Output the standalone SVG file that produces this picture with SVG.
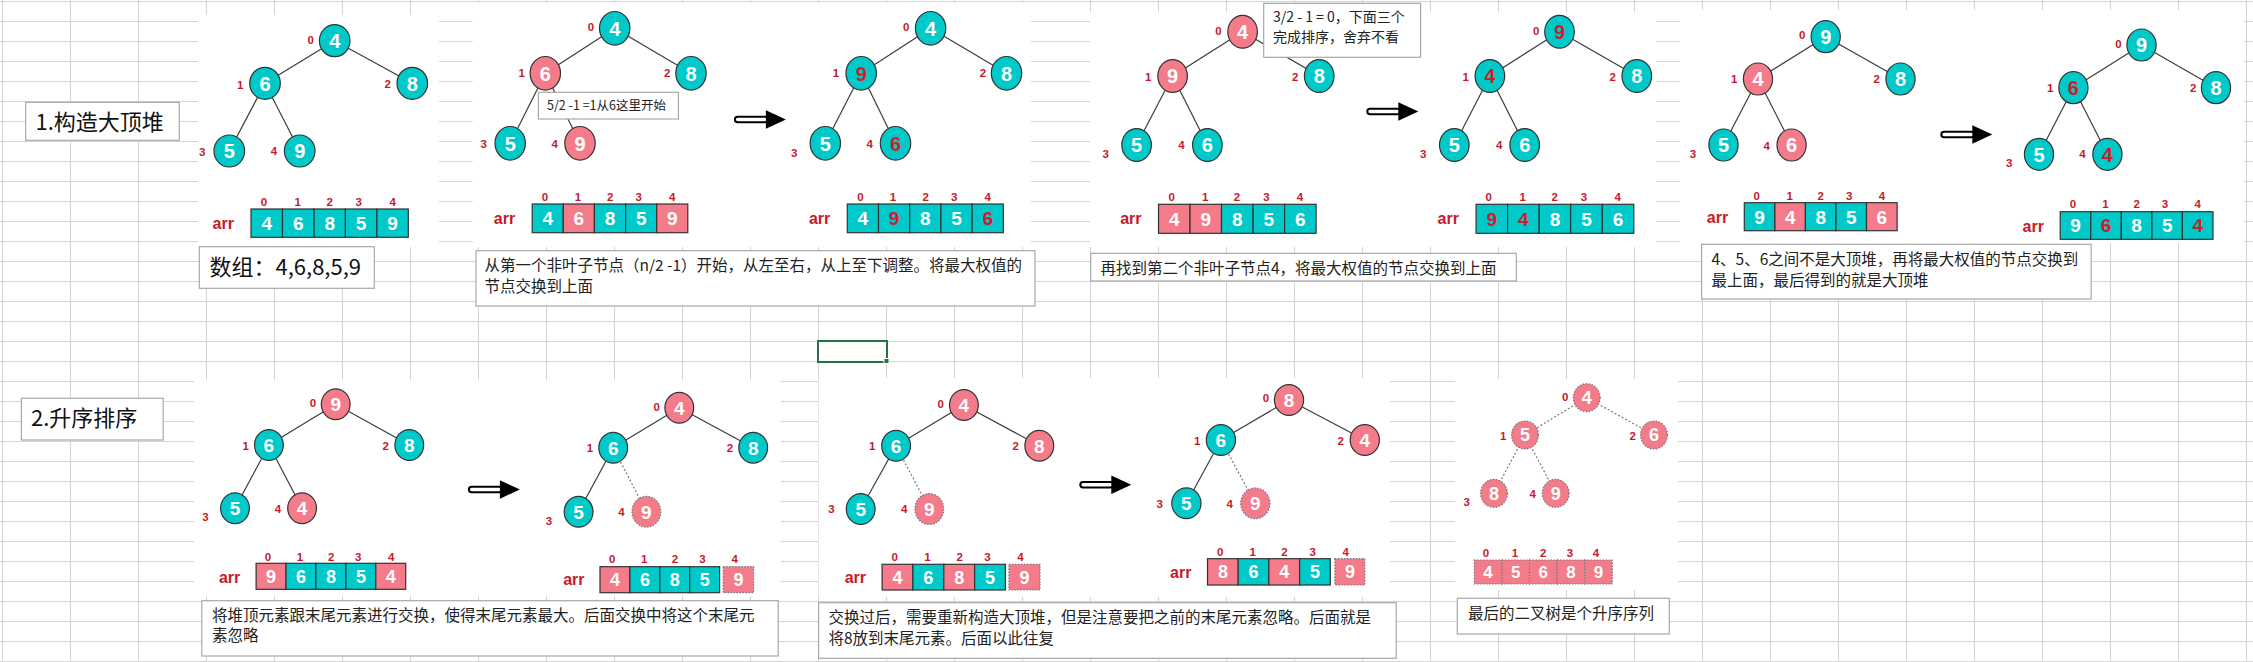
<svg xmlns="http://www.w3.org/2000/svg" width="2253" height="662" viewBox="0 0 2253 662">
<defs>
<style>
.img{fill:#fff}
.box{fill:#fff;stroke:#a8a8a8;stroke-width:1.2}
.tx{font-family:"Noto Sans CJK SC","Noto Sans",sans-serif;fill:#222;font-size:15.5px}
.big{font-size:22px;fill:#111}
.sm{font-size:12.5px}
.cs{font-size:14px}
.e{stroke:#3c3c3c;stroke-width:1.2}
.ed{stroke:#7a7a7a;stroke-width:1.2;stroke-dasharray:2 2}
.T{fill:#00c9c9;stroke:#333;stroke-width:1.2}
.P{fill:#f47b8a;stroke:#333;stroke-width:1.2}
.D{fill:#f47b8a;stroke:#777;stroke-width:1.2;stroke-dasharray:1.5 1.5}
.n{font-family:"Liberation Sans",Arial,sans-serif;font-weight:bold;font-size:20px;text-anchor:middle;fill:#fff}
.nb{font-size:19px}
.ns{font-size:18px}
.r{fill:#d01c2c}
.i{font-family:"Liberation Sans",Arial,sans-serif;font-weight:bold;font-size:11.5px;text-anchor:middle;fill:#c8192b}
.arr{font-family:"Liberation Sans",Arial,sans-serif;font-weight:bold;font-size:16px;text-anchor:middle;fill:#c8192b}
</style>
<pattern id="grid" x="2" y="1" width="68" height="20" patternUnits="userSpaceOnUse"><path d="M0.5 0V20M0 0.5H68" stroke="#d4d4d4" stroke-width="1" fill="none"/></pattern>
<g id="arrow"><rect x="1" y="-2.75" width="33" height="5.5" rx="2.75" fill="#fff" stroke="#000" stroke-width="2"/><path d="M32 -9.2 L52 0 L32 9.2Z" fill="#000"/></g>
</defs>
<rect width="2253" height="662" fill="#fff"/>
<rect width="2253" height="662" fill="url(#grid)"/>

<!-- image backgrounds -->
<g id="images">
<rect class="img" x="198" y="15" width="241" height="232"/>
<rect class="img" x="472.7" y="3" width="558.3" height="244"/>
<rect class="img" x="1090" y="12" width="566" height="235"/>
<rect class="img" x="1680" y="10" width="564" height="233"/>
<rect class="img" x="194" y="380" width="587" height="216"/>
<rect class="img" x="818.6" y="378" width="571.4" height="219"/>
<rect class="img" x="1455" y="379" width="223" height="211"/>
</g>

<!-- connectors -->
<g id="connectors">
<line class="e" x1="334.7" y1="40.7" x2="265" y2="83.3"/><line class="e" x1="334.7" y1="40.7" x2="412.3" y2="83.3"/><line class="e" x1="265" y1="83.3" x2="229.3" y2="151"/><line class="e" x1="265" y1="83.3" x2="299.7" y2="151"/>
<line class="e" x1="614.7" y1="28.3" x2="545.3" y2="73.3"/><line class="e" x1="614.7" y1="28.3" x2="691" y2="73.3"/><line class="e" x1="545.3" y1="73.3" x2="510.2" y2="143.3"/><line class="e" x1="545.3" y1="73.3" x2="580" y2="143.3"/>
<line class="e" x1="930.6" y1="28.3" x2="861.2" y2="73.3"/><line class="e" x1="930.6" y1="28.3" x2="1006.5" y2="73.3"/><line class="e" x1="861.2" y1="73.3" x2="825.3" y2="143.3"/><line class="e" x1="861.2" y1="73.3" x2="895.5" y2="143.3"/>
<line class="e" x1="1242.6" y1="31.7" x2="1172.6" y2="76"/><line class="e" x1="1242.6" y1="31.7" x2="1319.2" y2="76"/><line class="e" x1="1172.6" y1="76" x2="1136.6" y2="145"/><line class="e" x1="1172.6" y1="76" x2="1207.4" y2="145"/>
<line class="e" x1="1559.5" y1="31.7" x2="1489.9" y2="76"/><line class="e" x1="1559.5" y1="31.7" x2="1636.8" y2="76"/><line class="e" x1="1489.9" y1="76" x2="1454.3" y2="145"/><line class="e" x1="1489.9" y1="76" x2="1524.7" y2="145"/>
<line class="e" x1="1825.7" y1="36.7" x2="1758" y2="79"/><line class="e" x1="1825.7" y1="36.7" x2="1900.5" y2="79"/><line class="e" x1="1758" y1="79" x2="1723.5" y2="145"/><line class="e" x1="1758" y1="79" x2="1791.6" y2="145"/>
<line class="e" x1="2141.5" y1="45" x2="2073.4" y2="87.7"/><line class="e" x1="2141.5" y1="45" x2="2216" y2="87.7"/><line class="e" x1="2073.4" y1="87.7" x2="2039" y2="154.3"/><line class="e" x1="2073.4" y1="87.7" x2="2107.4" y2="154.3"/>
<line class="e" x1="335.7" y1="404.3" x2="268.9" y2="445"/><line class="e" x1="335.7" y1="404.3" x2="409.3" y2="445"/><line class="e" x1="268.9" y1="445" x2="235" y2="508.3"/><line class="e" x1="268.9" y1="445" x2="302.1" y2="508.3"/>
<line class="e" x1="679.3" y1="407.7" x2="613.2" y2="447.7"/><line class="e" x1="679.3" y1="407.7" x2="753.2" y2="447.7"/><line class="e" x1="613.2" y1="447.7" x2="578.6" y2="511.7"/><line class="ed" x1="613.2" y1="447.7" x2="646.4" y2="511.7"/>
<line class="e" x1="963.9" y1="405" x2="896.1" y2="445.7"/><line class="e" x1="963.9" y1="405" x2="1039.3" y2="445.7"/><line class="e" x1="896.1" y1="445.7" x2="860.7" y2="509"/><line class="ed" x1="896.1" y1="445.7" x2="929.3" y2="509"/>
<line class="e" x1="1289" y1="400" x2="1220.9" y2="440"/><line class="e" x1="1289" y1="400" x2="1364.8" y2="440"/><line class="e" x1="1220.9" y1="440" x2="1186.4" y2="503.3"/><line class="ed" x1="1220.9" y1="440" x2="1255.3" y2="503.3"/>
<line class="ed" x1="1586.7" y1="397.7" x2="1525" y2="435"/><line class="ed" x1="1586.7" y1="397.7" x2="1654" y2="435"/><line class="ed" x1="1525" y1="435" x2="1494" y2="493.3"/><line class="ed" x1="1525" y1="435" x2="1555.7" y2="493.3"/>
<use href="#arrow" x="733.9" y="119.5"/>
<use href="#arrow" x="1366.3" y="111.5"/>
<use href="#arrow" x="1940.3" y="134.5"/>
<use href="#arrow" x="467.9" y="489.5"/>
<use href="#arrow" x="1079.3" y="484.8"/>
</g>

<!-- tree 1 -->
<g id="tree1">
<g id="t1n0"><ellipse class="T" cx="334.7" cy="40.7" rx="15.3" ry="16"/><text class="n" x="334.7" y="47.9">4</text></g>
<g id="t1n1"><ellipse class="T" cx="265" cy="83.3" rx="15.3" ry="16"/><text class="n" x="265" y="90.5">6</text></g>
<g id="t1n2"><ellipse class="T" cx="412.3" cy="83.3" rx="15.3" ry="16"/><text class="n" x="412.3" y="90.5">8</text></g>
<g id="t1n3"><ellipse class="T" cx="229.3" cy="151" rx="15.3" ry="16"/><text class="n" x="229.3" y="158.2">5</text></g>
<g id="t1n4"><ellipse class="T" cx="299.7" cy="151" rx="15.3" ry="16"/><text class="n" x="299.7" y="158.2">9</text></g>
<text class="i" x="310.7" y="44.1">0</text><text class="i" x="240.3" y="89.1">1</text><text class="i" x="387.7" y="88.1">2</text><text class="i" x="202.3" y="155.8">3</text><text class="i" x="274" y="155.1">4</text>
</g>
<g id="arr1">
<text class="arr" x="223.3" y="228.6">arr</text>
<text class="i" x="264" y="205.8">0</text><text class="i" x="297.7" y="205.8">1</text><text class="i" x="329.7" y="205.8">2</text><text class="i" x="358.7" y="205.8">3</text><text class="i" x="392.7" y="205.8">4</text>
<rect class="T" x="251" y="209" width="31.5" height="28.3"/><rect class="T" x="282.5" y="209" width="31.5" height="28.3"/><rect class="T" x="314" y="209" width="31.4" height="28.3"/><rect class="T" x="345.4" y="209" width="31.5" height="28.3"/><rect class="T" x="376.9" y="209" width="31.4" height="28.3"/>
<text class="n nb" x="266.7" y="229.9">4</text><text class="n nb" x="298.2" y="229.9">6</text><text class="n nb" x="329.7" y="229.9">8</text><text class="n nb" x="361.1" y="229.9">5</text><text class="n nb" x="392.6" y="229.9">9</text>
</g>

<!-- tree 2a -->
<g id="tree2a">
<g id="t2an0"><ellipse class="T" cx="614.7" cy="28.3" rx="15.2" ry="16.8"/><text class="n" x="614.7" y="35.5">4</text></g>
<g id="t2an1"><ellipse class="P" cx="545.3" cy="73.3" rx="15.2" ry="16.8"/><text class="n" x="545.3" y="80.5">6</text></g>
<g id="t2an2"><ellipse class="T" cx="691" cy="73.3" rx="15.2" ry="16.8"/><text class="n" x="691" y="80.5">8</text></g>
<g id="t2an3"><ellipse class="T" cx="510.2" cy="143.3" rx="15.2" ry="16.8"/><text class="n" x="510.2" y="150.5">5</text></g>
<g id="t2an4"><ellipse class="P" cx="580" cy="143.3" rx="15.2" ry="16.8"/><text class="n" x="580" y="150.5">9</text></g>
<text class="i" x="591" y="30.8">0</text><text class="i" x="521.6" y="77.4">1</text><text class="i" x="667.3" y="77.4">2</text><text class="i" x="483.7" y="148.1">3</text><text class="i" x="554.7" y="148.1">4</text>
</g>
<g id="callout1"><rect class="box" x="538.4" y="92.3" width="140" height="26.7"/><text class="tx sm" x="547" y="110">5/2 -1 =1从6这里开始</text></g>
<g id="arr2a">
<text class="arr" x="504.5" y="224.3">arr</text>
<text class="i" x="544.9" y="200.8">0</text><text class="i" x="578" y="200.8">1</text><text class="i" x="610.2" y="200.8">2</text><text class="i" x="638.8" y="200.8">3</text><text class="i" x="672.2" y="200.8">4</text>
<rect class="T" x="532.2" y="204" width="31.1" height="28.7"/><rect class="P" x="563.3" y="204" width="31.1" height="28.7"/><rect class="T" x="594.4" y="204" width="31.2" height="28.7"/><rect class="T" x="625.6" y="204" width="31.1" height="28.7"/><rect class="P" x="656.7" y="204" width="31.1" height="28.7"/>
<text class="n nb" x="547.8" y="225.2">4</text><text class="n nb" x="578.9" y="225.2">6</text><text class="n nb" x="610" y="225.2">8</text><text class="n nb" x="641.2" y="225.2">5</text><text class="n nb" x="672.3" y="225.2">9</text>
</g>

<!-- tree 2b -->
<g id="tree2b">
<g id="t2bn0"><ellipse class="T" cx="930.6" cy="28.3" rx="15.2" ry="16.8"/><text class="n" x="930.6" y="35.5">4</text></g>
<g id="t2bn1"><ellipse class="T" cx="861.2" cy="73.3" rx="15.2" ry="16.8"/><text class="n r" x="861.2" y="80.5">9</text></g>
<g id="t2bn2"><ellipse class="T" cx="1006.5" cy="73.3" rx="15.2" ry="16.8"/><text class="n" x="1006.5" y="80.5">8</text></g>
<g id="t2bn3"><ellipse class="T" cx="825.3" cy="143.3" rx="15.2" ry="16.8"/><text class="n" x="825.3" y="150.5">5</text></g>
<g id="t2bn4"><ellipse class="T" cx="895.5" cy="143.3" rx="15.2" ry="16.8"/><text class="n r" x="895.5" y="150.5">6</text></g>
<text class="i" x="906.1" y="30.8">0</text><text class="i" x="835.9" y="77.4">1</text><text class="i" x="982.9" y="77.4">2</text><text class="i" x="794.3" y="156.8">3</text><text class="i" x="869.8" y="148.1">4</text>
</g>
<g id="arr2b">
<text class="arr" x="819.6" y="224.3">arr</text>
<text class="i" x="860.4" y="200.8">0</text><text class="i" x="893" y="200.8">1</text><text class="i" x="925.7" y="200.8">2</text><text class="i" x="954.3" y="200.8">3</text><text class="i" x="987.8" y="200.8">4</text>
<rect class="T" x="847.3" y="204" width="31.2" height="28.7"/><rect class="T" x="878.5" y="204" width="31.2" height="28.7"/><rect class="T" x="909.7" y="204" width="31.2" height="28.7"/><rect class="T" x="940.9" y="204" width="31.2" height="28.7"/><rect class="T" x="972.1" y="204" width="31.2" height="28.7"/>
<text class="n nb" x="862.9" y="225.2">4</text><text class="n nb r" x="894.1" y="225.2">9</text><text class="n nb" x="925.3" y="225.2">8</text><text class="n nb" x="956.5" y="225.2">5</text><text class="n nb r" x="987.7" y="225.2">6</text>
</g>

<!-- tree 3a -->
<g id="tree3a">
<g id="t3an0"><ellipse class="P" cx="1242.6" cy="31.7" rx="14.8" ry="16.4"/><text class="n" x="1242.6" y="38.9">4</text></g>
<g id="t3an1"><ellipse class="P" cx="1172.6" cy="76" rx="14.8" ry="16.4"/><text class="n" x="1172.6" y="83.2">9</text></g>
<g id="t3an2"><ellipse class="T" cx="1319.2" cy="76" rx="14.8" ry="16.4"/><text class="n" x="1319.2" y="83.2">8</text></g>
<g id="t3an3"><ellipse class="T" cx="1136.6" cy="145" rx="14.8" ry="16.4"/><text class="n" x="1136.6" y="152.2">5</text></g>
<g id="t3an4"><ellipse class="T" cx="1207.4" cy="145" rx="14.8" ry="16.4"/><text class="n" x="1207.4" y="152.2">6</text></g>
<text class="i" x="1218.5" y="34.8">0</text><text class="i" x="1148.1" y="80.8">1</text><text class="i" x="1295.1" y="80.8">2</text><text class="i" x="1105.6" y="158.1">3</text><text class="i" x="1181.4" y="149.1">4</text>
</g>
<g id="callout2"><rect class="box" x="1263.7" y="3.3" width="156.9" height="54"/><text class="tx cs" x="1273" y="22.4">3/2 - 1 = 0，下面三个</text><text class="tx cs" x="1273" y="41.8">完成排序，舍弃不看</text></g>
<g id="arr3a">
<text class="arr" x="1130.9" y="224.3">arr</text>
<text class="i" x="1171.8" y="200.8">0</text><text class="i" x="1205.1" y="200.8">1</text><text class="i" x="1236.9" y="200.8">2</text><text class="i" x="1266.4" y="200.8">3</text><text class="i" x="1300" y="200.8">4</text>
<rect class="P" x="1158.5" y="204.3" width="31.5" height="29"/><rect class="P" x="1190" y="204.3" width="31.5" height="29"/><rect class="T" x="1221.5" y="204.3" width="31.6" height="29"/><rect class="T" x="1253.1" y="204.3" width="31.5" height="29"/><rect class="T" x="1284.6" y="204.3" width="31.5" height="29"/>
<text class="n nb" x="1174.3" y="225.6">4</text><text class="n nb" x="1205.8" y="225.6">9</text><text class="n nb" x="1237.3" y="225.6">8</text><text class="n nb" x="1268.8" y="225.6">5</text><text class="n nb" x="1300.3" y="225.6">6</text>
</g>

<!-- tree 3b -->
<g id="tree3b">
<g id="t3bn0"><ellipse class="T" cx="1559.5" cy="31.7" rx="14.8" ry="16.4"/><text class="n r" x="1559.5" y="38.9">9</text></g>
<g id="t3bn1"><ellipse class="T" cx="1489.9" cy="76" rx="14.8" ry="16.4"/><text class="n r" x="1489.9" y="83.2">4</text></g>
<g id="t3bn2"><ellipse class="T" cx="1636.8" cy="76" rx="14.8" ry="16.4"/><text class="n" x="1636.8" y="83.2">8</text></g>
<g id="t3bn3"><ellipse class="T" cx="1454.3" cy="145" rx="14.8" ry="16.4"/><text class="n" x="1454.3" y="152.2">5</text></g>
<g id="t3bn4"><ellipse class="T" cx="1524.7" cy="145" rx="14.8" ry="16.4"/><text class="n" x="1524.7" y="152.2">6</text></g>
<text class="i" x="1536.2" y="34.8">0</text><text class="i" x="1465.8" y="80.8">1</text><text class="i" x="1612.7" y="80.8">2</text><text class="i" x="1423.3" y="158.1">3</text><text class="i" x="1499.1" y="149.1">4</text>
</g>
<g id="arr3b">
<text class="arr" x="1448.2" y="224.3">arr</text>
<text class="i" x="1488.7" y="200.8">0</text><text class="i" x="1522.8" y="200.8">1</text><text class="i" x="1554.6" y="200.8">2</text><text class="i" x="1584" y="200.8">3</text><text class="i" x="1617.7" y="200.8">4</text>
<rect class="T" x="1476.1" y="204.3" width="31.5" height="29"/><rect class="T" x="1507.6" y="204.3" width="31.6" height="29"/><rect class="T" x="1539.2" y="204.3" width="31.5" height="29"/><rect class="T" x="1570.7" y="204.3" width="31.6" height="29"/><rect class="T" x="1602.3" y="204.3" width="31.5" height="29"/>
<text class="n nb r" x="1491.9" y="225.6">9</text><text class="n nb r" x="1523.4" y="225.6">4</text><text class="n nb" x="1555" y="225.6">8</text><text class="n nb" x="1586.5" y="225.6">5</text><text class="n nb" x="1618" y="225.6">6</text>
</g>

<!-- tree 4a -->
<g id="tree4a">
<g id="t4an0"><ellipse class="T" cx="1825.7" cy="36.7" rx="14.6" ry="16"/><text class="n" x="1825.7" y="43.9">9</text></g>
<g id="t4an1"><ellipse class="P" cx="1758" cy="79" rx="14.6" ry="16"/><text class="n" x="1758" y="86.2">4</text></g>
<g id="t4an2"><ellipse class="T" cx="1900.5" cy="79" rx="14.6" ry="16"/><text class="n" x="1900.5" y="86.2">8</text></g>
<g id="t4an3"><ellipse class="T" cx="1723.5" cy="145" rx="14.6" ry="16"/><text class="n" x="1723.5" y="152.2">5</text></g>
<g id="t4an4"><ellipse class="P" cx="1791.6" cy="145" rx="14.6" ry="16"/><text class="n" x="1791.6" y="152.2">6</text></g>
<text class="i" x="1802.2" y="39.1">0</text><text class="i" x="1734.1" y="83.4">1</text><text class="i" x="1876.7" y="83.4">2</text><text class="i" x="1692.9" y="158.4">3</text><text class="i" x="1766.7" y="149.8">4</text>
</g>
<g id="arr4a">
<text class="arr" x="1717.5" y="222.6">arr</text>
<text class="i" x="1756.8" y="199.8">0</text><text class="i" x="1789.7" y="199.8">1</text><text class="i" x="1820.7" y="199.8">2</text><text class="i" x="1849.1" y="199.8">3</text><text class="i" x="1882" y="199.8">4</text>
<rect class="T" x="1744.3" y="202.7" width="30.6" height="28"/><rect class="P" x="1774.9" y="202.7" width="30.5" height="28"/><rect class="T" x="1805.4" y="202.7" width="30.6" height="28"/><rect class="T" x="1836" y="202.7" width="30.5" height="28"/><rect class="P" x="1866.5" y="202.7" width="30.6" height="28"/>
<text class="n nb" x="1759.6" y="223.5">9</text><text class="n nb" x="1790.2" y="223.5">4</text><text class="n nb" x="1820.7" y="223.5">8</text><text class="n nb" x="1851.3" y="223.5">5</text><text class="n nb" x="1881.8" y="223.5">6</text>
</g>

<!-- tree 4b -->
<g id="tree4b">
<g id="t4bn0"><ellipse class="T" cx="2141.5" cy="45" rx="14.6" ry="16"/><text class="n" x="2141.5" y="52.2">9</text></g>
<g id="t4bn1"><ellipse class="T" cx="2073.4" cy="87.7" rx="14.6" ry="16"/><text class="n r" x="2073.4" y="94.9">6</text></g>
<g id="t4bn2"><ellipse class="T" cx="2216" cy="87.7" rx="14.6" ry="16"/><text class="n" x="2216" y="94.9">8</text></g>
<g id="t4bn3"><ellipse class="T" cx="2039" cy="154.3" rx="14.6" ry="16"/><text class="n" x="2039" y="161.5">5</text></g>
<g id="t4bn4"><ellipse class="T" cx="2107.4" cy="154.3" rx="14.6" ry="16"/><text class="n r" x="2107.4" y="161.5">4</text></g>
<text class="i" x="2118.4" y="47.8">0</text><text class="i" x="2050.3" y="92.4">1</text><text class="i" x="2193.3" y="92.4">2</text><text class="i" x="2009.1" y="167.4">3</text><text class="i" x="2082.5" y="158.4">4</text>
</g>
<g id="arr4b">
<text class="arr" x="2033.3" y="231.6">arr</text>
<text class="i" x="2073" y="208.4">0</text><text class="i" x="2105.5" y="208.4">1</text><text class="i" x="2136.6" y="208.4">2</text><text class="i" x="2164.9" y="208.4">3</text><text class="i" x="2197.8" y="208.4">4</text>
<rect class="T" x="2060.2" y="211.7" width="30.6" height="27.6"/><rect class="T" x="2090.8" y="211.7" width="30.5" height="27.6"/><rect class="T" x="2121.3" y="211.7" width="30.6" height="27.6"/><rect class="T" x="2151.9" y="211.7" width="30.5" height="27.6"/><rect class="T" x="2182.4" y="211.7" width="30.6" height="27.6"/>
<text class="n nb" x="2075.5" y="232.3">9</text><text class="n nb r" x="2106.1" y="232.3">6</text><text class="n nb" x="2136.6" y="232.3">8</text><text class="n nb" x="2167.2" y="232.3">5</text><text class="n nb r" x="2197.7" y="232.3">4</text>
</g>

<!-- tree 5a -->
<g id="tree5a">
<g id="t5an0"><ellipse class="P" cx="335.7" cy="404.3" rx="14.4" ry="15.4"/><text class="n nb" x="335.7" y="411.1">9</text></g>
<g id="t5an1"><ellipse class="T" cx="268.9" cy="445" rx="14.4" ry="15.4"/><text class="n nb" x="268.9" y="451.8">6</text></g>
<g id="t5an2"><ellipse class="T" cx="409.3" cy="445" rx="14.4" ry="15.4"/><text class="n nb" x="409.3" y="451.8">8</text></g>
<g id="t5an3"><ellipse class="T" cx="235" cy="508.3" rx="14.4" ry="15.4"/><text class="n nb" x="235" y="515.1">5</text></g>
<g id="t5an4"><ellipse class="P" cx="302.1" cy="508.3" rx="14.4" ry="15.4"/><text class="n nb" x="302.1" y="515.1">4</text></g>
<text class="i" x="312.9" y="407.4">0</text><text class="i" x="245.7" y="450.1">1</text><text class="i" x="385.7" y="450.1">2</text><text class="i" x="205.4" y="521.4">3</text><text class="i" x="277.9" y="513.1">4</text>
</g>
<g id="arr5a">
<text class="arr" x="229.6" y="582.6">arr</text>
<text class="i" x="267.9" y="560.8">0</text><text class="i" x="300" y="560.8">1</text><text class="i" x="331.1" y="560.8">2</text><text class="i" x="358.2" y="560.8">3</text><text class="i" x="391.1" y="560.8">4</text>
<rect class="P" x="256.1" y="563.3" width="29.9" height="26"/><rect class="T" x="286" y="563.3" width="29.9" height="26"/><rect class="T" x="315.9" y="563.3" width="30" height="26"/><rect class="T" x="345.9" y="563.3" width="29.9" height="26"/><rect class="P" x="375.8" y="563.3" width="29.9" height="26"/>
<text class="n ns" x="271.1" y="582.8">9</text><text class="n ns" x="301" y="582.8">6</text><text class="n ns" x="330.9" y="582.8">8</text><text class="n ns" x="360.9" y="582.8">5</text><text class="n ns" x="390.7" y="582.8">4</text>
</g>

<!-- tree 5b -->
<g id="tree5b">
<g id="t5bn0"><ellipse class="P" cx="679.3" cy="407.7" rx="14.4" ry="15.4"/><text class="n nb" x="679.3" y="414.5">4</text></g>
<g id="t5bn1"><ellipse class="T" cx="613.2" cy="447.7" rx="14.4" ry="15.4"/><text class="n nb" x="613.2" y="454.5">6</text></g>
<g id="t5bn2"><ellipse class="T" cx="753.2" cy="447.7" rx="14.4" ry="15.4"/><text class="n nb" x="753.2" y="454.5">8</text></g>
<g id="t5bn3"><ellipse class="T" cx="578.6" cy="511.7" rx="14.4" ry="15.4"/><text class="n nb" x="578.6" y="518.5">5</text></g>
<g id="t5bn4"><ellipse class="D" cx="646.4" cy="511.7" rx="14.4" ry="15.4"/><text class="n nb" x="646.4" y="518.5">9</text></g>
<text class="i" x="656.8" y="410.8">0</text><text class="i" x="590" y="452.4">1</text><text class="i" x="730" y="452.4">2</text><text class="i" x="548.9" y="524.8">3</text><text class="i" x="621.4" y="515.8">4</text>
</g>
<g id="arr5b">
<text class="arr" x="573.9" y="585">arr</text>
<text class="i" x="612.1" y="563.4">0</text><text class="i" x="644.3" y="563.4">1</text><text class="i" x="675" y="563.4">2</text><text class="i" x="702.5" y="563.4">3</text><text class="i" x="734.6" y="563.4">4</text>
<rect class="P" x="600" y="566.7" width="29.9" height="26"/><rect class="T" x="629.9" y="566.7" width="29.9" height="26"/><rect class="T" x="659.8" y="566.7" width="29.9" height="26"/><rect class="T" x="689.7" y="566.7" width="29.9" height="26"/><rect class="D" x="723.2" y="566.7" width="30.4" height="26"/>
<text class="n ns" x="615" y="586.2">4</text><text class="n ns" x="644.9" y="586.2">6</text><text class="n ns" x="674.8" y="586.2">8</text><text class="n ns" x="704.7" y="586.2">5</text><text class="n ns" x="738.4" y="586.2">9</text>
</g>

<!-- tree 6 -->
<g id="tree6">
<g id="t6n0"><ellipse class="P" cx="963.9" cy="405" rx="14.4" ry="15.4"/><text class="n nb" x="963.9" y="411.8">4</text></g>
<g id="t6n1"><ellipse class="T" cx="896.1" cy="445.7" rx="14.4" ry="15.4"/><text class="n nb" x="896.1" y="452.5">6</text></g>
<g id="t6n2"><ellipse class="P" cx="1039.3" cy="445.7" rx="14.4" ry="15.4"/><text class="n nb" x="1039.3" y="452.5">8</text></g>
<g id="t6n3"><ellipse class="T" cx="860.7" cy="509" rx="14.4" ry="15.4"/><text class="n nb" x="860.7" y="515.8">5</text></g>
<g id="t6n4"><ellipse class="D" cx="929.3" cy="509" rx="14.4" ry="15.4"/><text class="n nb" x="929.3" y="515.8">9</text></g>
<text class="i" x="940.7" y="408.1">0</text><text class="i" x="872.1" y="450.1">1</text><text class="i" x="1015.7" y="450.1">2</text><text class="i" x="831.4" y="513.4">3</text><text class="i" x="904.3" y="513.4">4</text>
</g>
<g id="arr6">
<text class="arr" x="855.4" y="582.6">arr</text>
<text class="i" x="894.6" y="561.4">0</text><text class="i" x="927.5" y="561.4">1</text><text class="i" x="959.6" y="561.4">2</text><text class="i" x="987.5" y="561.4">3</text><text class="i" x="1020.4" y="561.4">4</text>
<rect class="P" x="882.1" y="564.3" width="30.8" height="25.7"/><rect class="T" x="912.9" y="564.3" width="30.9" height="25.7"/><rect class="P" x="943.8" y="564.3" width="30.8" height="25.7"/><rect class="T" x="974.6" y="564.3" width="30.8" height="25.7"/><rect class="D" x="1008.9" y="564.3" width="31.1" height="25.7"/>
<text class="n ns" x="897.5" y="583.7">4</text><text class="n ns" x="928.3" y="583.7">6</text><text class="n ns" x="959.2" y="583.7">8</text><text class="n ns" x="990" y="583.7">5</text><text class="n ns" x="1024.5" y="583.7">9</text>
</g>

<!-- tree 7 -->
<g id="tree7">
<g id="t7n0"><ellipse class="P" cx="1289" cy="400" rx="14.6" ry="15.4"/><text class="n nb" x="1289" y="406.8">8</text></g>
<g id="t7n1"><ellipse class="T" cx="1220.9" cy="440" rx="14.6" ry="15.4"/><text class="n nb" x="1220.9" y="446.8">6</text></g>
<g id="t7n2"><ellipse class="P" cx="1364.8" cy="440" rx="14.6" ry="15.4"/><text class="n nb" x="1364.8" y="446.8">4</text></g>
<g id="t7n3"><ellipse class="T" cx="1186.4" cy="503.3" rx="14.6" ry="15.4"/><text class="n nb" x="1186.4" y="510.1">5</text></g>
<g id="t7n4"><ellipse class="D" cx="1255.3" cy="503.3" rx="14.6" ry="15.4"/><text class="n nb" x="1255.3" y="510.1">9</text></g>
<text class="i" x="1266" y="401.8">0</text><text class="i" x="1197.2" y="444.8">1</text><text class="i" x="1340.7" y="444.8">2</text><text class="i" x="1159.7" y="508.1">3</text><text class="i" x="1229.7" y="508.1">4</text>
</g>
<g id="arr7">
<text class="arr" x="1180.7" y="577.6">arr</text>
<text class="i" x="1220.1" y="555.8">0</text><text class="i" x="1252.6" y="555.8">1</text><text class="i" x="1284.4" y="555.8">2</text><text class="i" x="1312.7" y="555.8">3</text><text class="i" x="1345.6" y="555.8">4</text>
<rect class="P" x="1207.5" y="558.7" width="30.7" height="26.3"/><rect class="T" x="1238.2" y="558.7" width="30.7" height="26.3"/><rect class="P" x="1268.9" y="558.7" width="30.7" height="26.3"/><rect class="T" x="1299.6" y="558.7" width="30.7" height="26.3"/><rect class="D" x="1334.9" y="558.7" width="29.9" height="26.3"/>
<text class="n ns" x="1222.9" y="578.4">8</text><text class="n ns" x="1253.6" y="578.4">6</text><text class="n ns" x="1284.3" y="578.4">4</text><text class="n ns" x="1315" y="578.4">5</text><text class="n ns" x="1349.9" y="578.4">9</text>
</g>

<!-- tree 8 -->
<g id="tree8">
<g id="t8n0"><ellipse class="D" cx="1586.7" cy="397.7" rx="13.4" ry="14"/><text class="n ns" x="1586.7" y="404.1">4</text></g>
<g id="t8n1"><ellipse class="D" cx="1525" cy="435" rx="13.4" ry="14"/><text class="n ns" x="1525" y="441.4">5</text></g>
<g id="t8n2"><ellipse class="D" cx="1654" cy="435" rx="13.4" ry="14"/><text class="n ns" x="1654" y="441.4">6</text></g>
<g id="t8n3"><ellipse class="D" cx="1494" cy="493.3" rx="13.4" ry="14"/><text class="n ns" x="1494" y="499.7">8</text></g>
<g id="t8n4"><ellipse class="D" cx="1555.7" cy="493.3" rx="13.4" ry="14"/><text class="n ns" x="1555.7" y="499.7">9</text></g>
<text class="i" x="1565.3" y="400.8">0</text><text class="i" x="1503.3" y="439.8">1</text><text class="i" x="1632.7" y="439.8">2</text><text class="i" x="1466.7" y="505.8">3</text><text class="i" x="1532.7" y="498.1">4</text>
</g>
<g id="arr8">
<text class="i" x="1486" y="556.8">0</text><text class="i" x="1515" y="556.8">1</text><text class="i" x="1543.3" y="556.8">2</text><text class="i" x="1570" y="556.8">3</text><text class="i" x="1596" y="556.8">4</text>
<rect class="D" x="1474.3" y="560" width="27.6" height="24"/><rect class="D" x="1501.9" y="560" width="27.6" height="24"/><rect class="D" x="1529.5" y="560" width="27.6" height="24"/><rect class="D" x="1557.1" y="560" width="27.6" height="24"/><rect class="D" x="1584.7" y="560" width="27.6" height="24"/>
<text class="n" style="font-size:17px" x="1488.1" y="578">4</text><text class="n" style="font-size:17px" x="1515.7" y="578">5</text><text class="n" style="font-size:17px" x="1543.3" y="578">6</text><text class="n" style="font-size:17px" x="1570.9" y="578">8</text><text class="n" style="font-size:17px" x="1598.5" y="578">9</text>
</g>

<!-- text boxes -->
<g id="title1"><rect class="box" x="25.7" y="102.3" width="153.6" height="38"/><text class="tx big" x="35.5" y="129.5">1.构造大顶堆</text></g>
<g id="note-array"><rect class="box" x="199.3" y="246.7" width="175" height="41.6"/><text class="tx big" x="209.5" y="274.5">数组：4,6,8,5,9</text></g>
<g id="note2"><rect class="box" x="476" y="250.7" width="559" height="55.3"/><text class="tx" x="484.5" y="271.2">从第一个非叶子节点（n/2 -1）开始，从左至右，从上至下调整。将最大权值的</text><text class="tx" x="484.5" y="291.5">节点交换到上面</text></g>
<g id="note3"><rect class="box" x="1090.7" y="253.3" width="425.6" height="27.7"/><text class="tx" x="1100.5" y="273.8">再找到第二个非叶子节点4，将最大权值的节点交换到上面</text></g>
<g id="note4"><rect class="box" x="1701.6" y="244.3" width="389.6" height="54.7"/><text class="tx" x="1711.5" y="264.8">4、5、6之间不是大顶堆，再将最大权值的节点交换到</text><text class="tx" x="1711.5" y="285.5">最上面，最后得到的就是大顶堆</text></g>
<g id="title2"><rect class="box" x="21.4" y="398.3" width="141.8" height="41.7"/><text class="tx big" x="31" y="426.3">2.升序排序</text></g>
<g id="note5"><rect class="box" x="201.8" y="600.7" width="576.4" height="55.3"/><text class="tx" x="212" y="620.5">将堆顶元素跟末尾元素进行交换，使得末尾元素最大。后面交换中将这个末尾元</text><text class="tx" x="212" y="640.5">素忽略</text></g>
<g id="note6"><rect class="box" x="818.6" y="602.7" width="577.6" height="55.6"/><text class="tx" x="828.5" y="623.2">交换过后，需要重新构造大顶堆，但是注意要把之前的末尾元素忽略。后面就是</text><text class="tx" x="828.5" y="643.8">将8放到末尾元素。后面以此往复</text></g>
<g id="note7"><rect class="box" x="1457.3" y="598.3" width="212" height="35.7"/><text class="tx" x="1468" y="618.8">最后的二叉树是个升序序列</text></g>

<!-- selected cell -->
<g id="selection"><rect x="818" y="341" width="69" height="21" fill="none" stroke="#217346" stroke-width="2"/><rect x="884" y="358.5" width="5" height="5" fill="#217346" stroke="#fff" stroke-width="1"/></g>
</svg>
